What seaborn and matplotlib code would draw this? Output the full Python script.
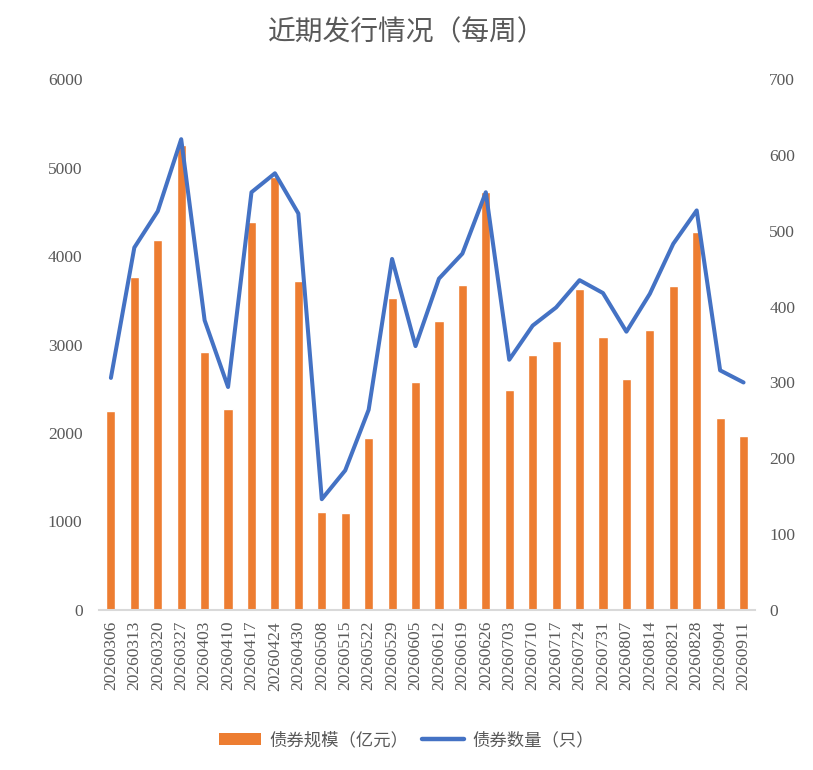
import matplotlib
matplotlib.use('Agg')
import matplotlib.pyplot as plt
import seaborn as sns
import pandas as pd
from matplotlib.patches import Patch
from matplotlib.lines import Line2D

weeks = ['20260306', '20260313', '20260320', '20260327', '20260403', '20260410', '20260417',
         '20260424', '20260430', '20260508', '20260515', '20260522', '20260529', '20260605',
         '20260612', '20260619', '20260626', '20260703', '20260710', '20260717', '20260724',
         '20260731', '20260807', '20260814', '20260821', '20260828', '20260904', '20260911']
# 债券规模（亿元）
scale = [2250, 3765, 4180, 5255, 2915, 2270, 4385, 4890, 3720, 1110, 1100, 1945, 3525, 2575,
         3265, 3675, 4725, 2485, 2880, 3040, 3630, 3085, 2610, 3165, 3660, 4270, 2170, 1965]
# 债券数量（只）
count = [306, 478, 526, 621, 382, 294, 551, 576, 523, 146, 184, 264, 463, 348,
         437, 470, 551, 330, 375, 399, 435, 418, 367, 417, 483, 527, 316, 300]

df = pd.DataFrame({'week': weeks, 'scale': scale, 'count': count})

sns.set_style('white')
plt.rcParams['font.family'] = ['Liberation Serif', 'Noto Sans CJK SC', 'DejaVu Sans']

grey = '#595959'
orange = '#ED7D31'
blue = '#4472C4'

fig = plt.figure(figsize=(8.13, 7.7), dpi=100)
ax = fig.add_axes([0.122, 0.208, 0.807, 0.689])

sns.barplot(data=df, x='week', y='scale', color=orange, width=0.39, saturation=1, ax=ax)
ax.set_xlim(-0.5, len(weeks) - 0.5)
ax.set_ylim(0, 6000)
ax.set_yticks(range(0, 6001, 1000))
ax.set_xlabel('')
ax.set_ylabel('')

ax2 = ax.twinx()
sns.lineplot(x=range(len(weeks)), y=df['count'], color=blue, linewidth=2.9, ax=ax2)
ax2.set_ylim(0, 700)
ax2.set_yticks(range(0, 701, 100))
ax2.set_ylabel('')
ax2.set_xlim(-0.5, len(weeks) - 0.5)

for a in (ax, ax2):
    for s in a.spines.values():
        s.set_visible(False)
    a.tick_params(length=0, labelsize=12.5, labelcolor=grey)
ax.spines['bottom'].set_visible(True)
ax.spines['bottom'].set_color('#D9D9D9')
ax.spines['bottom'].set_linewidth(1.5)
ax.tick_params(axis='y', pad=12)
ax2.tick_params(axis='y', pad=10)
ax.tick_params(axis='x', pad=8)
ax.set_xticks(range(len(weeks)))
ax.set_xticklabels(weeks, rotation=90)

fig.text(0.5, 0.957, '近期发行情况（每周）', ha='center', va='center', fontsize=20, color=grey)

handles = [Patch(facecolor=orange, edgecolor='none'),
           Line2D([0], [0], color=blue, linewidth=3.2)]
fig.legend(handles, ['债券规模（亿元）', '债券数量（只）'], loc='center', bbox_to_anchor=(0.5, 0.038),
           ncol=2, frameon=False, fontsize=12.5, labelcolor=grey, handlelength=2.4,
           handleheight=0.7, columnspacing=0.8, handletextpad=0.5)

fig.savefig('out.png', dpi=100)
